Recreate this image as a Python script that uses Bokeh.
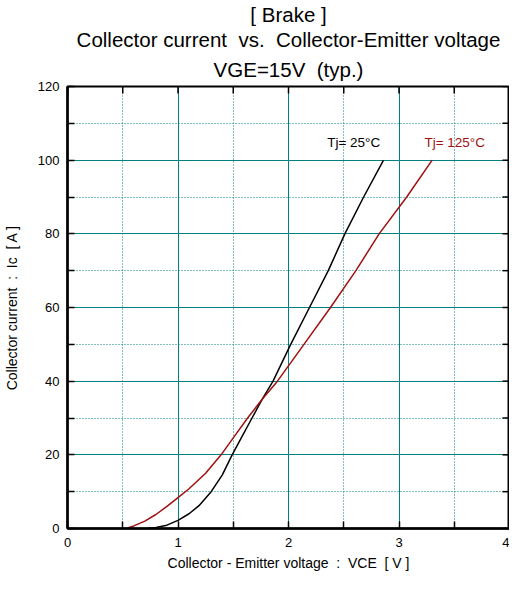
import math
from bokeh.plotting import figure
from bokeh.models import (Range1d, FixedTicker, Grid, Label, Title)
from bokeh.embed import file_html
from bokeh.resources import INLINE

# Data
vce_25 = [0.72, 0.8, 0.9, 1.0, 1.1, 1.19, 1.30, 1.40, 1.49, 1.58, 1.67, 1.76, 1.86, 2.02, 2.19, 2.36, 2.51, 2.68, 2.86]
ic_25 = [0, 0.3, 0.9, 2.2, 4.0, 6.2, 10, 14.5, 20, 25, 30, 35, 40, 50, 60, 70, 80, 90, 100]
vce_125 = [0.53, 0.6, 0.7, 0.8, 0.9, 1.0, 1.10, 1.25, 1.39, 1.51, 1.63, 1.76, 1.90, 2.14, 2.38, 2.61, 2.82, 3.07, 3.30]
ic_125 = [0, 0.7, 2.0, 3.8, 6.0, 8.4, 10.8, 15, 20, 25, 30, 35, 40, 50, 60, 70, 80, 90, 100]

x_ticks = [0, 0.5, 1, 1.5, 2, 2.5, 3, 3.5, 4]
x_labels = {0: "0", 0.5: "", 1: "1", 1.5: "", 2: "2", 2.5: "", 3: "3", 3.5: "", 4: "4"}
y_ticks = [0, 10, 20, 30, 40, 50, 60, 70, 80, 90, 100, 110, 120]
y_labels = {t: (str(t) if t % 20 == 0 else "") for t in y_ticks}

NB = "\u00a0"
title_lines = ["[ Brake ]",
               "Collector current " + NB + "vs. " + NB + "Collector-Emitter voltage",
               "VGE=15V " + NB + "(typ.)"]
x_title = "Collector - Emitter voltage " + NB + ": " + NB + "VCE " + NB + "[ V ]"
y_title = "Collector current " + NB + ": " + NB + "Ic " + NB + "[ A ]"
label_25 = "Tj= 25°C"
label_125 = "Tj= 125°C"

FONT = "Liberation Sans"
TEAL = "#008080"
RED = "#a01010"

x_min, x_max = x_ticks[0], x_ticks[-1]
y_min, y_max = y_ticks[0], y_ticks[-1]

p = figure(width=509, height=573, output_backend="svg", toolbar_location=None,
           x_range=Range1d(x_min, x_max), y_range=Range1d(y_min, y_max),
           min_border_left=59, min_border_right=0, min_border_top=0, min_border_bottom=0)
p.title = None

standoffs = [0, 0, 11]
for t, s in reversed(list(zip(title_lines, standoffs))):
    p.add_layout(Title(text=t, align="center", text_font=FONT, text_font_size="20.5px",
                       text_font_style="normal", text_color="#000000", standoff=s, offset=0), "above")

p.background_fill_color = "white"
p.border_fill_color = "white"
p.outline_line_color = "black"
p.outline_line_width = 2

for ax in (p.xaxis[0], p.yaxis[0]):
    ax.axis_line_width = 2.5
    ax.axis_line_color = "black"
    ax.major_tick_in = 7
    ax.major_tick_out = 0
    ax.minor_tick_line_color = None
    ax.major_tick_line_width = 1.5
    ax.major_label_text_font = FONT
    ax.major_label_text_font_size = "13px"
    ax.major_label_text_color = "#000000"
    ax.axis_label_text_font = FONT
    ax.axis_label_text_font_size = "14px"
    ax.axis_label_text_font_style = "normal"
    ax.axis_label_text_color = "#000000"

p.xaxis[0].ticker = FixedTicker(ticks=x_ticks)
p.xaxis[0].major_label_overrides = x_labels
p.xaxis[0].axis_label = x_title
p.xaxis[0].axis_label_standoff = 5
p.xaxis[0].major_label_standoff = 9
p.yaxis[0].ticker = FixedTicker(ticks=y_ticks)
p.yaxis[0].major_label_overrides = y_labels
p.yaxis[0].axis_label = y_title
p.yaxis[0].axis_label_standoff = 15
p.yaxis[0].major_label_standoff = 8

# inward ticks on the top and right frame edges
p.scatter([x_max] * len(y_ticks), y_ticks, marker="dash", size=14,
          line_color="black", line_width=1.5)
p.scatter(x_ticks, [y_max] * len(x_ticks), marker="dash", size=14, angle=math.pi / 2,
          line_color="black", line_width=1.5)

p.xgrid.ticker = FixedTicker(ticks=[1, 2, 3])
p.ygrid.ticker = FixedTicker(ticks=[20, 40, 60, 80, 100])
for g in (p.xgrid[0], p.ygrid[0]):
    g.grid_line_color = TEAL
    g.grid_line_width = 1
p.add_layout(Grid(dimension=0, ticker=FixedTicker(ticks=[0.5, 1.5, 2.5, 3.5]),
                  grid_line_color=TEAL, grid_line_dash="1 2", grid_line_width=1))
p.add_layout(Grid(dimension=1, ticker=FixedTicker(ticks=[10, 30, 50, 70, 90, 110]),
                  grid_line_color=TEAL, grid_line_dash="1 2", grid_line_width=1))

p.line(vce_25, ic_25, line_color="black", line_width=1.5)
p.line(vce_125, ic_125, line_color=RED, line_width=1.5)

p.add_layout(Label(x=2.35, y=104.7, text=label_25, text_font=FONT, text_font_size="13.5px",
                   text_color="#000000", text_baseline="middle"))
p.add_layout(Label(x=3.23, y=104.7, text=label_125, text_font=FONT, text_font_size="13.5px",
                   text_color=RED, text_baseline="middle"))

open("out.html", "w").write(file_html(p, INLINE))
